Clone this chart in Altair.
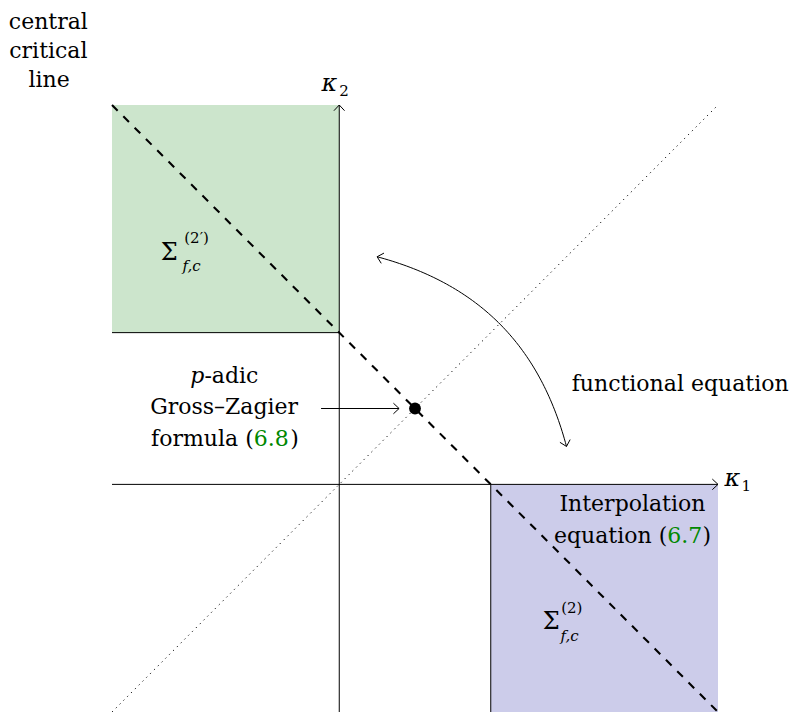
import altair as alt
import pandas as pd
import numpy as np

FONT = "DejaVu Serif"
GREEN_TXT = "#008800"

# ---------------- data (diagram units) ----------------
X_DOMAIN = [-3, 5]
Y_DOMAIN = [-3, 5]

# solid segments
seg_x1 = [-3, 0, -3, 2, -0.24]
seg_y1 = [0, -3, 2, 0, 1]
seg_x2 = [5, 0, 0, 2, 0.79]
seg_y2 = [0, 5, 2, -3, 1]

# shaded regions
reg_x1 = [-3, 2]
reg_x2 = [0, 5]
reg_y1 = [2, -3]
reg_y2 = [5, 0]
reg_color = ["#cce5cc", "#ccccea"]

# dashed central critical line, dotted diagonal
dash_x = [-3, 5]
dash_y = [5, -3]
dot_x = [-3, 5]
dot_y = [-3, 5]

# marked point
pt_x = [1]
pt_y = [1]

# functional equation arc: endpoints and bend angle (deg)
arc_start = [0.5, 3.0]
arc_end = [3.0, 0.5]
arc_bend = 30

# arrow tips: x, y, direction
tip_x = [5, 0, 0.79]
tip_y = [0, 5, 1]
tip_dx = [1, 0, 1]
tip_dy = [0, 1, 0]

# texts
txt_text = ["central", "critical", "line", "Gross–Zagier", "functional equation", "Interpolation",
            "Σ", "Σ",
            "-adic", "(2′)", "(2)", "6.8", ")", "6.7", ")", "2", "1",
            "formula (", "equation (",
            "p", "κ", "κ",
            "f,c", "f,c"]
txt_x = [-3.84, -3.84, -3.83, -1.52, 4.50, 3.87,
         -2.244, 2.80,
         -1.78, -2.046, 2.93, -1.129, -0.647, 4.33, 4.795, 0.0, 5.31,
         -1.129, 4.33,
         -1.875, -0.13, 5.19,
         -2.07, 2.92]
txt_y = [6.00, 5.62, 5.24, 0.924, 1.228, -0.356,
         2.957, -1.90,
         1.33, 3.18, -1.69, 0.50, 0.50, -0.779, -0.779, 5.12, -0.092,
         0.50, -0.779,
         1.33, 5.19, -0.026,
         2.81, -2.06]
txt_size = [22, 22, 22, 22, 22, 22,
            24, 24,
            22, 15, 15, 22, 22, 22, 22, 15, 15,
            22, 22,
            22, 24, 24,
            15, 15]
txt_color = ["black"] * 11 + [GREEN_TXT, "black", GREEN_TXT, "black", "black", "black",
                               "black", "black", "black", "black", "black", "black", "black"]
txt_align = ["center"] * 8 + ["left"] * 9 + ["right"] * 2 + ["center"] * 3 + ["left"] * 2
txt_italic = [False] * 19 + [True] * 5

# ---------------- build tables ----------------
xs = alt.Scale(domain=X_DOMAIN, nice=False, zero=False)
ys = alt.Scale(domain=Y_DOMAIN, nice=False, zero=False)

# cubic Bezier for the "bend left" arc
p0 = np.array(arc_start)
p3 = np.array(arc_end)
d = p3 - p0
L = np.hypot(*d)
ang = np.arctan2(d[1], d[0])
b = np.radians(arc_bend)
p1 = p0 + 0.3915 * L * np.array([np.cos(ang + b), np.sin(ang + b)])
p2 = p3 + 0.3915 * L * np.array([np.cos(ang + np.pi - b), np.sin(ang + np.pi - b)])
t = np.linspace(0, 1, 80)[:, None]
curve = (1 - t) ** 3 * p0 + 3 * (1 - t) ** 2 * t * p1 + 3 * (1 - t) * t ** 2 * p2 + t ** 3 * p3
arc_df = pd.DataFrame({"x": curve[:, 0], "y": curve[:, 1], "o": np.arange(len(curve))})

# arrow tips (add arc ends)
tips = list(zip(tip_x, tip_y, tip_dx, tip_dy))
u0 = (p0 - p1) / np.hypot(*(p0 - p1))
u3 = (p3 - p2) / np.hypot(*(p3 - p2))
tips.append((p0[0], p0[1], u0[0], u0[1]))
tips.append((p3[0], p3[1], u3[0], u3[1]))
BACK, HALF = 0.075, 0.07
sx1, sy1, sx2, sy2 = list(seg_x1), list(seg_y1), list(seg_x2), list(seg_y2)
for (tx, ty, dx, dy) in tips:
    nx, ny = -dy, dx
    for s in (1, -1):
        sx1.append(tx)
        sy1.append(ty)
        sx2.append(tx - BACK * dx + s * HALF * nx)
        sy2.append(ty - BACK * dy + s * HALF * ny)
seg_df = pd.DataFrame({"x": sx1, "y": sy1, "x2": sx2, "y2": sy2})

reg_df = pd.DataFrame({"x": reg_x1, "x2": reg_x2, "y": reg_y1, "y2": reg_y2, "c": reg_color})
dash_df = pd.DataFrame({"x": dash_x, "y": dash_y})
dot_df = pd.DataFrame({"x": dot_x, "y": dot_y})
pt_df = pd.DataFrame({"x": pt_x, "y": pt_y})
txt_df = pd.DataFrame({"x": txt_x, "y": txt_y, "t": txt_text, "s": txt_size, "c": txt_color,
                       "a": txt_align, "i": txt_italic})

X = lambda f="x": alt.X(f, type="quantitative", scale=xs, axis=None)
Y = lambda f="y": alt.Y(f, type="quantitative", scale=ys, axis=None)

regions = alt.Chart(reg_df).mark_rect().encode(
    x=X(), x2="x2", y=Y(), y2="y2", color=alt.Color("c:N", scale=None))

dotted = alt.Chart(dot_df).mark_line(color="black", strokeWidth=1, strokeDash=[1.2, 4.2]).encode(
    x=X(), y=Y())

dashed = alt.Chart(dash_df).mark_line(color="black", strokeWidth=2.1, strokeDash=[8, 8]).encode(
    x=X(), y=Y())

segs = alt.Chart(seg_df).mark_rule(color="black", strokeWidth=1).encode(
    x=X(), y=Y(), x2="x2", y2="y2")

arc = alt.Chart(arc_df).mark_line(color="black", strokeWidth=1).encode(
    x=X(), y=Y(), order="o:Q")

point = alt.Chart(pt_df).mark_point(filled=True, color="black", opacity=1, size=140, shape="circle").encode(
    x=X(), y=Y())

text_layers = []
for (a, i), sub in txt_df.groupby(["a", "i"]):
    text_layers.append(
        alt.Chart(sub).mark_text(font=FONT, align=a, baseline="alphabetic",
                                 fontStyle="italic" if i else "normal").encode(
            x=X(), y=Y(), text="t:N",
            size=alt.Size("s:Q", scale=None),
            color=alt.Color("c:N", scale=None)))

chart = alt.layer(regions, dotted, dashed, segs, arc, point, *text_layers).properties(
    width=606, height=607,
    autosize=alt.AutoSizeParams(type="none"),
    padding={"left": 104, "top": 97, "right": 75, "bottom": 1},
).configure_view(stroke=None)

chart.save("out.html", embed_options={"renderer": "svg", "actions": False})
